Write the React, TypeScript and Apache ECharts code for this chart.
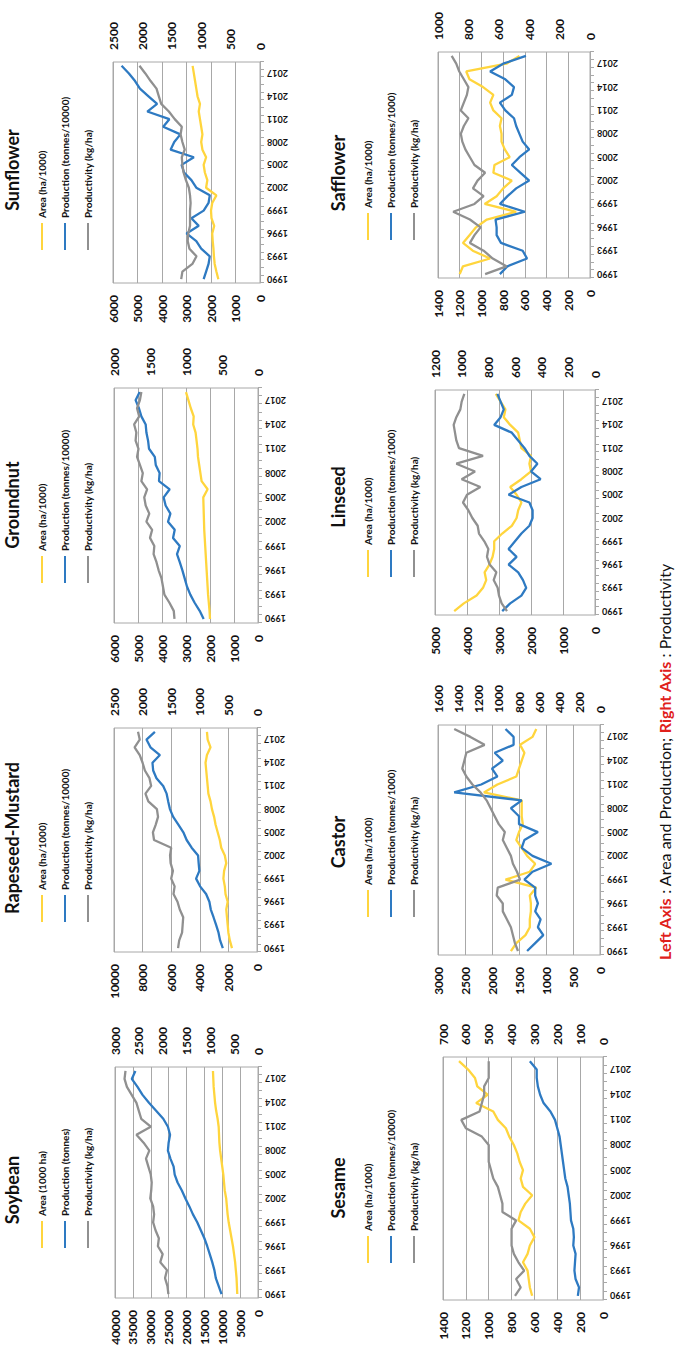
import React, { useEffect, useRef } from "react";
import * as echarts from "echarts";

// ---------- categories ----------
const years = [
  "1990", "1991", "1992", "1993", "1994", "1995", "1996", "1997", "1998", "1999",
  "2000", "2001", "2002", "2003", "2004", "2005", "2006", "2007", "2008", "2009",
  "2010", "2011", "2012", "2013", "2014", "2015", "2016", "2017", "2018",
];

// ---------- data ----------
const soybeanArea = [5800, 5900, 6000, 6200, 6400, 6700, 7000, 7400, 7800, 8200, 8500, 8700, 8900, 9300, 9500, 9700, 10000, 10300, 10600, 10800, 10900, 11000, 11300, 11700, 12000, 12200, 12400, 12500, 12600];
const soybeanProduction = [10200, 11000, 11800, 12200, 12800, 13500, 14200, 15000, 16000, 17000, 18200, 19200, 20300, 21300, 22500, 23300, 23600, 24500, 25200, 25000, 24600, 25200, 26500, 28500, 30500, 32300, 33700, 35300, 34300];
const soybeanProductivity = [1880, 1900, 1950, 1910, 2050, 2000, 2100, 2080, 2150, 2200, 2180, 2200, 2260, 2240, 2230, 2250, 2300, 2350, 2280, 2400, 2550, 2250, 2450, 2500, 2550, 2650, 2750, 2800, 2780];

const rapeseedArea = [1750, 1900, 2000, 2050, 2100, 2150, 2050, 2200, 2250, 2350, 2300, 2150, 2250, 2500, 2600, 2750, 2900, 3000, 3150, 3250, 3400, 3450, 3500, 3550, 3600, 3500, 3250, 3450, 3500];
const rapeseedProduction = [2390, 2580, 2690, 2860, 3040, 3230, 3330, 3560, 3980, 4260, 4030, 4080, 4120, 4570, 4920, 5150, 5500, 5860, 6090, 6210, 6320, 6560, 7030, 7260, 7310, 6790, 7450, 7730, 7140];
const rapeseedProductivity = [1380, 1360, 1310, 1300, 1290, 1350, 1390, 1460, 1440, 1500, 1470, 1510, 1520, 1500, 1800, 1820, 1770, 1730, 1750, 1900, 1950, 1850, 1880, 1960, 2000, 2050, 2140, 2050, 2080];

const groundnutArea = [2000, 2020, 2050, 2080, 2100, 2120, 2140, 2160, 2180, 2200, 2220, 2240, 2250, 2260, 2270, 2280, 2100, 2350, 2400, 2450, 2500, 2520, 2560, 2600, 2700, 2680, 2800, 2900, 3000];
const groundnutProduction = [2264, 2430, 2640, 2820, 2960, 3055, 3150, 3260, 3375, 3260, 3540, 3470, 3750, 3650, 3850, 3930, 3680, 4125, 4100, 4260, 4300, 4540, 4580, 4650, 4680, 4860, 4960, 5100, 4930];
const groundnutProductivity = [1160, 1170, 1230, 1300, 1320, 1340, 1380, 1410, 1450, 1440, 1500, 1470, 1550, 1510, 1560, 1580, 1540, 1620, 1600, 1640, 1680, 1660, 1700, 1690, 1720, 1650, 1680, 1640, 1620];

const sunflowerArea = [1700, 1780, 1850, 1880, 1900, 1930, 1950, 1870, 1980, 2000, 1950, 1780, 2200, 2150, 2250, 2300, 2200, 2350, 2400, 2350, 2400, 2450, 2500, 2450, 2550, 2600, 2650, 2700, 2750];
const sunflowerProduction = [2300, 2200, 2100, 2050, 2400, 2600, 3000, 2500, 2800, 2300, 2100, 2050, 2600, 2800, 3100, 3200, 2700, 3650, 3500, 3250, 3950, 3700, 4600, 4200, 4550, 4900, 5100, 5350, 5650];
const sunflowerProductivity = [1340, 1320, 1150, 1080, 1200, 1230, 1220, 1190, 1190, 1190, 1180, 1190, 1210, 1260, 1300, 1320, 1330, 1280, 1320, 1350, 1330, 1450, 1550, 1680, 1720, 1760, 1860, 1950, 2050];

const sesameArea = [620, 640, 650, 660, 700, 660, 640, 600, 640, 740, 720, 680, 620, 700, 720, 700, 730, 750, 780, 820, 850, 920, 960, 1110, 1010, 1100, 1120, 1180, 1260];
const sesameProduction = [220, 210, 240, 250, 245, 240, 260, 255, 260, 280, 285, 290, 300, 310, 330, 340, 350, 360, 370, 380, 400, 420, 460, 520, 550, 570, 580, 580, 640];
const sesameProductivity = [385, 360, 380, 345, 370, 390, 400, 400, 400, 380, 440, 440, 450, 460, 480, 490, 500, 500, 500, 530, 600, 620, 540, 530, 520, 520, 500, 500, 500];

const castorArea = [1650, 1550, 1380, 1300, 1300, 1280, 1280, 1300, 1180, 1750, 1300, 1200, 1350, 1450, 1550, 1500, 1430, 1450, 1450, 1450, 2150, 1900, 1550, 1500, 1450, 1400, 1480, 1250, 1180];
const castorProduction = [1350, 1200, 1050, 1150, 1100, 1200, 1150, 1200, 1200, 1400, 1250, 900, 1250, 1450, 1400, 1150, 1500, 1500, 1650, 1450, 2700, 2200, 1900, 2000, 1800, 1950, 1600, 1600, 1750];
const castorProductivity = [810, 840, 860, 880, 920, 960, 960, 1020, 1010, 790, 820, 860, 880, 920, 960, 940, 1000, 1040, 1080, 1120, 1180, 1260, 1320, 1360, 1340, 1320, 1140, 1280, 1440];

const linseedArea = [4400, 4100, 3700, 3500, 3400, 3450, 3300, 3200, 3150, 3150, 2900, 2600, 2450, 2400, 2300, 2450, 2650, 2300, 2000, 2050, 2000, 2300, 2350, 2400, 2650, 2850, 2800, 2950, 3100];
const linseedProduction = [2900, 2650, 2300, 2150, 2250, 2400, 2700, 2450, 2700, 2500, 2300, 2050, 1950, 1950, 2050, 2700, 2300, 1700, 2000, 1800, 2050, 2200, 2400, 2600, 3150, 2950, 2850, 2950, 3050];
const linseedProductivity = [660, 700, 720, 730, 760, 740, 790, 810, 800, 830, 870, 880, 920, 950, 990, 960, 860, 1000, 900, 1040, 840, 1020, 1040, 1050, 1060, 1040, 1010, 1000, 980];

const saffArea = [1200, 1170, 920, 1080, 1170, 1110, 1050, 950, 680, 970, 860, 800, 720, 890, 880, 740, 785, 815, 815, 830, 815, 890, 920, 890, 985, 1110, 1140, 770, 650];
const saffProduction = [830, 760, 580, 620, 820, 860, 860, 870, 600, 830, 760, 680, 560, 640, 720, 650, 560, 620, 650, 680, 700, 780, 830, 720, 700, 780, 920, 800, 590];
const saffProductivity = [690, 550, 640, 700, 790, 760, 720, 790, 900, 760, 700, 770, 740, 690, 760, 790, 820, 840, 850, 830, 800, 850, 830, 810, 800, 830, 860, 880, 910];

// axis scales
const leftMax = [40000, 10000, 6000, 6000, 1400, 3000, 5000, 1400];
const leftStep = [5000, 2000, 1000, 1000, 200, 500, 1000, 200];
const rightMax = [3000, 2500, 2000, 2500, 700, 1600, 1200, 1000];
const rightStep = [500, 500, 500, 500, 100, 200, 200, 200];

const cropNames = ["Soybean", "Rapeseed-Mustard", "Groundnut", "Sunflower", "Sesame", "Castor", "Linseed", "Safflower"];
const areaSeries = [soybeanArea, rapeseedArea, groundnutArea, sunflowerArea, sesameArea, castorArea, linseedArea, saffArea];
const prodSeries = [soybeanProduction, rapeseedProduction, groundnutProduction, sunflowerProduction, sesameProduction, castorProduction, linseedProduction, saffProduction];
const yieldSeries = [soybeanProductivity, rapeseedProductivity, groundnutProductivity, sunflowerProductivity, sesameProductivity, castorProductivity, linseedProductivity, saffProductivity];

const legendArea = ["Area (1000 ha)", "Area (ha/1000)", "Area (ha/1000)", "Area (ha/1000)", "Area (ha/1000)", "Area (ha/1000)", "Area (ha/1000)", "Area (ha/1000)"];
const legendProd = ["Production (tonnes)", "Production (tonnes/10000)", "Production (tonnes/10000)", "Production (tonnes/10000)", "Production (tonnes/10000)", "Production (tonnes/1000)", "Production (tonnes/1000)", "Production (tonnes/1000)"];
const legendYield = "Productivity (kg/ha)";

// ---------- layout (landscape figure, later turned a quarter turn) ----------
const W = 1355;
const H = 678;
const gridRects = [
  { left: 57, top: 115, width: 231, height: 143 },
  { left: 403, top: 114, width: 224, height: 143 },
  { left: 732, top: 114, width: 235, height: 144 },
  { left: 1072, top: 113, width: 221, height: 147 },
  { left: 55, top: 443, width: 243, height: 160 },
  { left: 400, top: 438, width: 230, height: 162 },
  { left: 740, top: 435, width: 225, height: 160 },
  { left: 1077, top: 438, width: 226, height: 152 },
];
const titlePos = [
  { x: 165, y: 3 }, { x: 517, y: 3 }, { x: 850, y: 3 }, { x: 1185, y: 3 },
  { x: 167, y: 329 }, { x: 513, y: 329 }, { x: 858, y: 329 }, { x: 1182, y: 329 },
];
const legendPos = [
  { x: 107, y: 36 }, { x: 433, y: 36 }, { x: 772, y: 36 }, { x: 1105, y: 36 },
  { x: 92, y: 362 }, { x: 438, y: 362 }, { x: 778, y: 362 }, { x: 1115, y: 362 },
];

const YELLOW = "#FFD53D";
const BLUE = "#2E7AC2";
const GRAY = "#909090";
const FRAME = "#A8A8A8";
const FONT = "Lato, 'Open Sans', sans-serif";

const plain = (v: number) => String(v);

function buildOption() {
  const grid: any[] = [];
  const xAxis: any[] = [];
  const yAxis: any[] = [];
  const series: any[] = [];
  const title: any[] = [];
  const legend: any[] = [];

  cropNames.forEach((crop, i) => {
    const g = gridRects[i];
    grid.push({ ...g, show: true, borderColor: FRAME, borderWidth: 1, containLabel: false });
    xAxis.push({
      type: "category",
      gridIndex: i,
      data: years,
      boundaryGap: true,
      axisLine: { show: true, lineStyle: { color: FRAME, width: 1 } },
      axisTick: { show: true, interval: 0, length: 4, lineStyle: { color: FRAME } },
      axisLabel: { interval: 2, rotate: 90, fontSize: 9, fontWeight: "bold", color: "#111", margin: 7, fontFamily: FONT },
      splitLine: { show: false },
    });
    yAxis.push({
      type: "value",
      gridIndex: i,
      position: "left",
      min: 0,
      max: leftMax[i],
      interval: leftStep[i],
      axisLine: { show: false },
      axisTick: { show: false },
      axisLabel: { fontSize: 12, fontWeight: "bold", color: "#111", margin: 12, fontFamily: FONT, formatter: plain },
      splitLine: { show: true, lineStyle: { color: FRAME, width: 1 } },
    });
    yAxis.push({
      type: "value",
      gridIndex: i,
      position: "right",
      min: 0,
      max: rightMax[i],
      interval: rightStep[i],
      axisLine: { show: false },
      axisTick: { show: false },
      axisLabel: { fontSize: 12, fontWeight: "bold", color: "#111", margin: 12, fontFamily: FONT, formatter: plain },
      splitLine: { show: false },
    });
    const nA = crop + "|" + legendArea[i];
    const nP = crop + "|" + legendProd[i];
    const nY = crop + "|" + legendYield;
    const common = { type: "line", xAxisIndex: i, symbol: "none", smooth: false, silent: true };
    series.push({ ...common, name: nA, yAxisIndex: 2 * i, data: areaSeries[i], lineStyle: { color: YELLOW, width: 2.3 }, itemStyle: { color: YELLOW } });
    series.push({ ...common, name: nP, yAxisIndex: 2 * i, data: prodSeries[i], lineStyle: { color: BLUE, width: 2.3 }, itemStyle: { color: BLUE } });
    series.push({ ...common, name: nY, yAxisIndex: 2 * i + 1, data: yieldSeries[i], lineStyle: { color: GRAY, width: 2.3 }, itemStyle: { color: GRAY } });

    title.push({
      text: crop,
      left: titlePos[i].x,
      top: titlePos[i].y,
      textAlign: "center",
      padding: 0,
      textStyle: { fontFamily: FONT, fontSize: 18, fontWeight: "bold", color: "#111" },
    });
    legend.push({
      data: [nA, nP, nY],
      orient: "vertical",
      left: legendPos[i].x,
      top: legendPos[i].y,
      padding: 0,
      icon: "rect",
      itemWidth: 27,
      itemHeight: 2,
      itemGap: 11,
      selectedMode: false,
      formatter: (n: string) => n.split("|")[1],
      textStyle: { fontFamily: FONT, fontSize: 10, fontWeight: "bold", color: "#111", lineHeight: 12 },
    });
  });

  title.push({
    text: "{r|Left Axis} : Area and Production; {r|Right Axis} : Productivity",
    left: 593,
    top: 656,
    textAlign: "center",
    padding: 0,
    textStyle: {
      fontFamily: FONT,
      fontSize: 16,
      fontWeight: "normal",
      color: "#111",
      rich: { r: { fontFamily: FONT, fontSize: 16, fontWeight: "bold", color: "#E0201B" } },
    },
  });

  return {
    animation: false,
    backgroundColor: "#ffffff",
    textStyle: { fontFamily: FONT },
    title,
    legend,
    grid,
    xAxis,
    yAxis,
    series,
  };
}

export default function App() {
  const ref = useRef<HTMLDivElement>(null);
  useEffect(() => {
    document.body.style.margin = "0";
    document.body.style.overflow = "hidden";
    document.documentElement.style.overflow = "hidden";
    if (!ref.current) return;
    const chart = echarts.init(ref.current, undefined, { renderer: "svg", width: W, height: H });
    chart.setOption(buildOption() as any);
    return () => chart.dispose();
  }, []);
  return (
    <div
      ref={ref}
      style={{
        position: "absolute",
        left: 0,
        top: 0,
        width: W + "px",
        height: H + "px",
        background: "#fff",
        transformOrigin: "0 0",
        transform: "translate(0px, " + W + "px) rotate(-90deg)",
      }}
    />
  );
}
